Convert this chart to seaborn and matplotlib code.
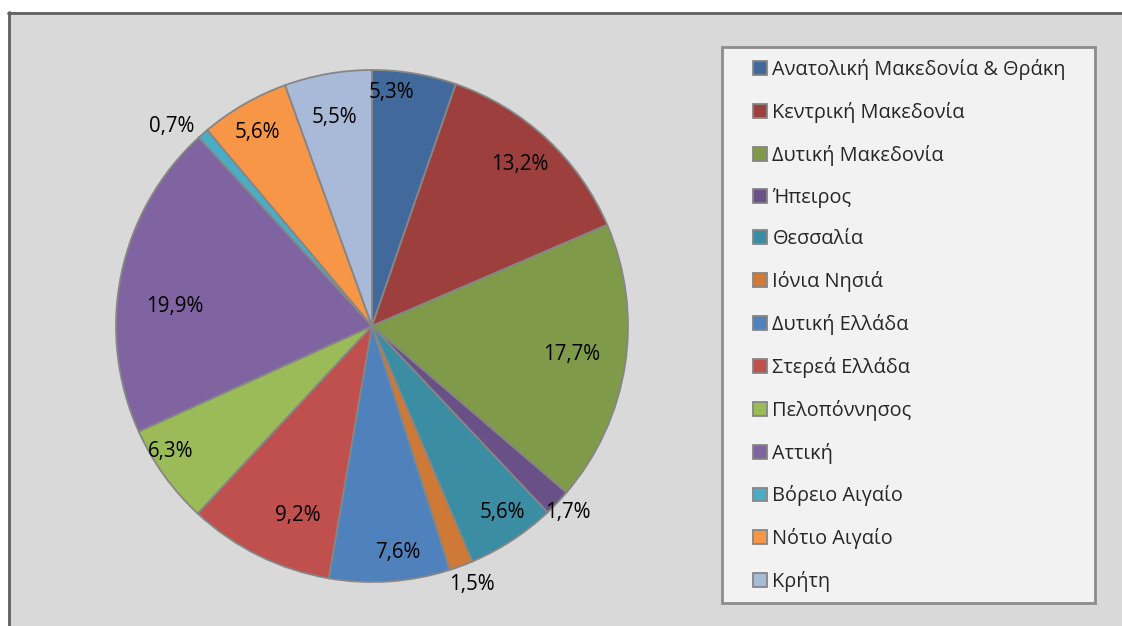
import matplotlib
matplotlib.use("Agg")
import matplotlib.pyplot as plt
import seaborn as sns
from matplotlib.patches import Rectangle
from matplotlib.lines import Line2D

# ---- data ----
regions = ["Ανατολική Μακεδονία & Θράκη", "Κεντρική Μακεδονία", "Δυτική Μακεδονία",
           "Ήπειρος", "Θεσσαλία", "Ιόνια Νησιά", "Δυτική Ελλάδα", "Στερεά Ελλάδα",
           "Πελοπόννησος", "Αττική", "Βόρειο Αιγαίο", "Νότιο Αιγαίο", "Κρήτη"]
shares = [5.3, 13.2, 17.7, 1.7, 5.6, 1.5, 7.6, 9.2, 6.3, 19.9, 0.7, 5.6, 5.5]

colors = ["#41699B", "#9D403D", "#7F9A48", "#695087", "#3A8DA2", "#CE7A36",
          "#4F81BD", "#C0504D", "#9BBB59", "#8064A2", "#4BACC6", "#F79646", "#A9B9D8"]

# label positions (data coords, pie radius = 1)
label_pos = [(0.074, 0.914), (0.578, 0.629), (0.781, -0.113), (0.766, -0.730),
             (0.508, -0.730), (0.391, -1.008), (0.102, -0.883), (-0.289, -0.742),
             (-0.785, -0.492), (-0.770, 0.078), (-0.781, 0.781), (-0.449, 0.754),
             (-0.148, 0.816)]

sns.set_theme(style="white")
plt.rcParams["font.family"] = ["Open Sans", "DejaVu Sans"]

W, H = 1122, 626
fig = plt.figure(figsize=(W / 100, H / 100), dpi=100)
fig.patch.set_facecolor("#D9D9D9")

# white margin + frame lines (top / left)
fig.patches.append(Rectangle((0, 0), 8 / W, 1, transform=fig.transFigure,
                             facecolor="white", edgecolor="none", zorder=0))
fig.patches.append(Rectangle((0, 1 - 12 / H), 1, 12 / H, transform=fig.transFigure,
                             facecolor="white", edgecolor="none", zorder=0))
fig.lines.append(Line2D([9 / W, 9 / W], [0, 1 - 12 / H], transform=fig.transFigure,
                        color="#606060", lw=2))
fig.lines.append(Line2D([8 / W, 1], [1 - 13 / H, 1 - 13 / H], transform=fig.transFigure,
                        color="#606060", lw=2))

cx, cy, R = 372, 326, 256
ax = fig.add_axes([(cx - R) / W, (H - cy - R) / H, 2 * R / W, 2 * R / H])
wedges, _ = ax.pie(shares, colors=colors, startangle=90, counterclock=False,
                   wedgeprops=dict(edgecolor="#868686", linewidth=1.3))
ax.set_xlim(-1, 1)
ax.set_ylim(-1, 1)
ax.axis("off")

for v, (x, y) in zip(shares, label_pos):
    ax.text(x, y, f"{v:.1f}%".replace(".", ","), ha="center", va="center",
            fontsize=14.8, color="black")

# legend box
lx0, ly0, lx1, ly1 = 722, 47, 1095, 603
fig.patches.append(Rectangle((lx0 / W, 1 - ly1 / H), (lx1 - lx0) / W, (ly1 - ly0) / H,
                             transform=fig.transFigure, facecolor="#F2F2F2",
                             edgecolor="#8C8C8C", lw=2, zorder=1))

leg = fig.legend(wedges, regions, loc="upper left",
                 bbox_to_anchor=(753 / W, 1 - 59 / H), frameon=False,
                 borderpad=0, borderaxespad=0, fontsize=14.3,
                 handlelength=0.7, handleheight=0.7, handletextpad=0.28,
                 labelspacing=1.1)
leg.set_zorder(5)

fig.savefig("out.png", dpi=100, facecolor=fig.get_facecolor())
